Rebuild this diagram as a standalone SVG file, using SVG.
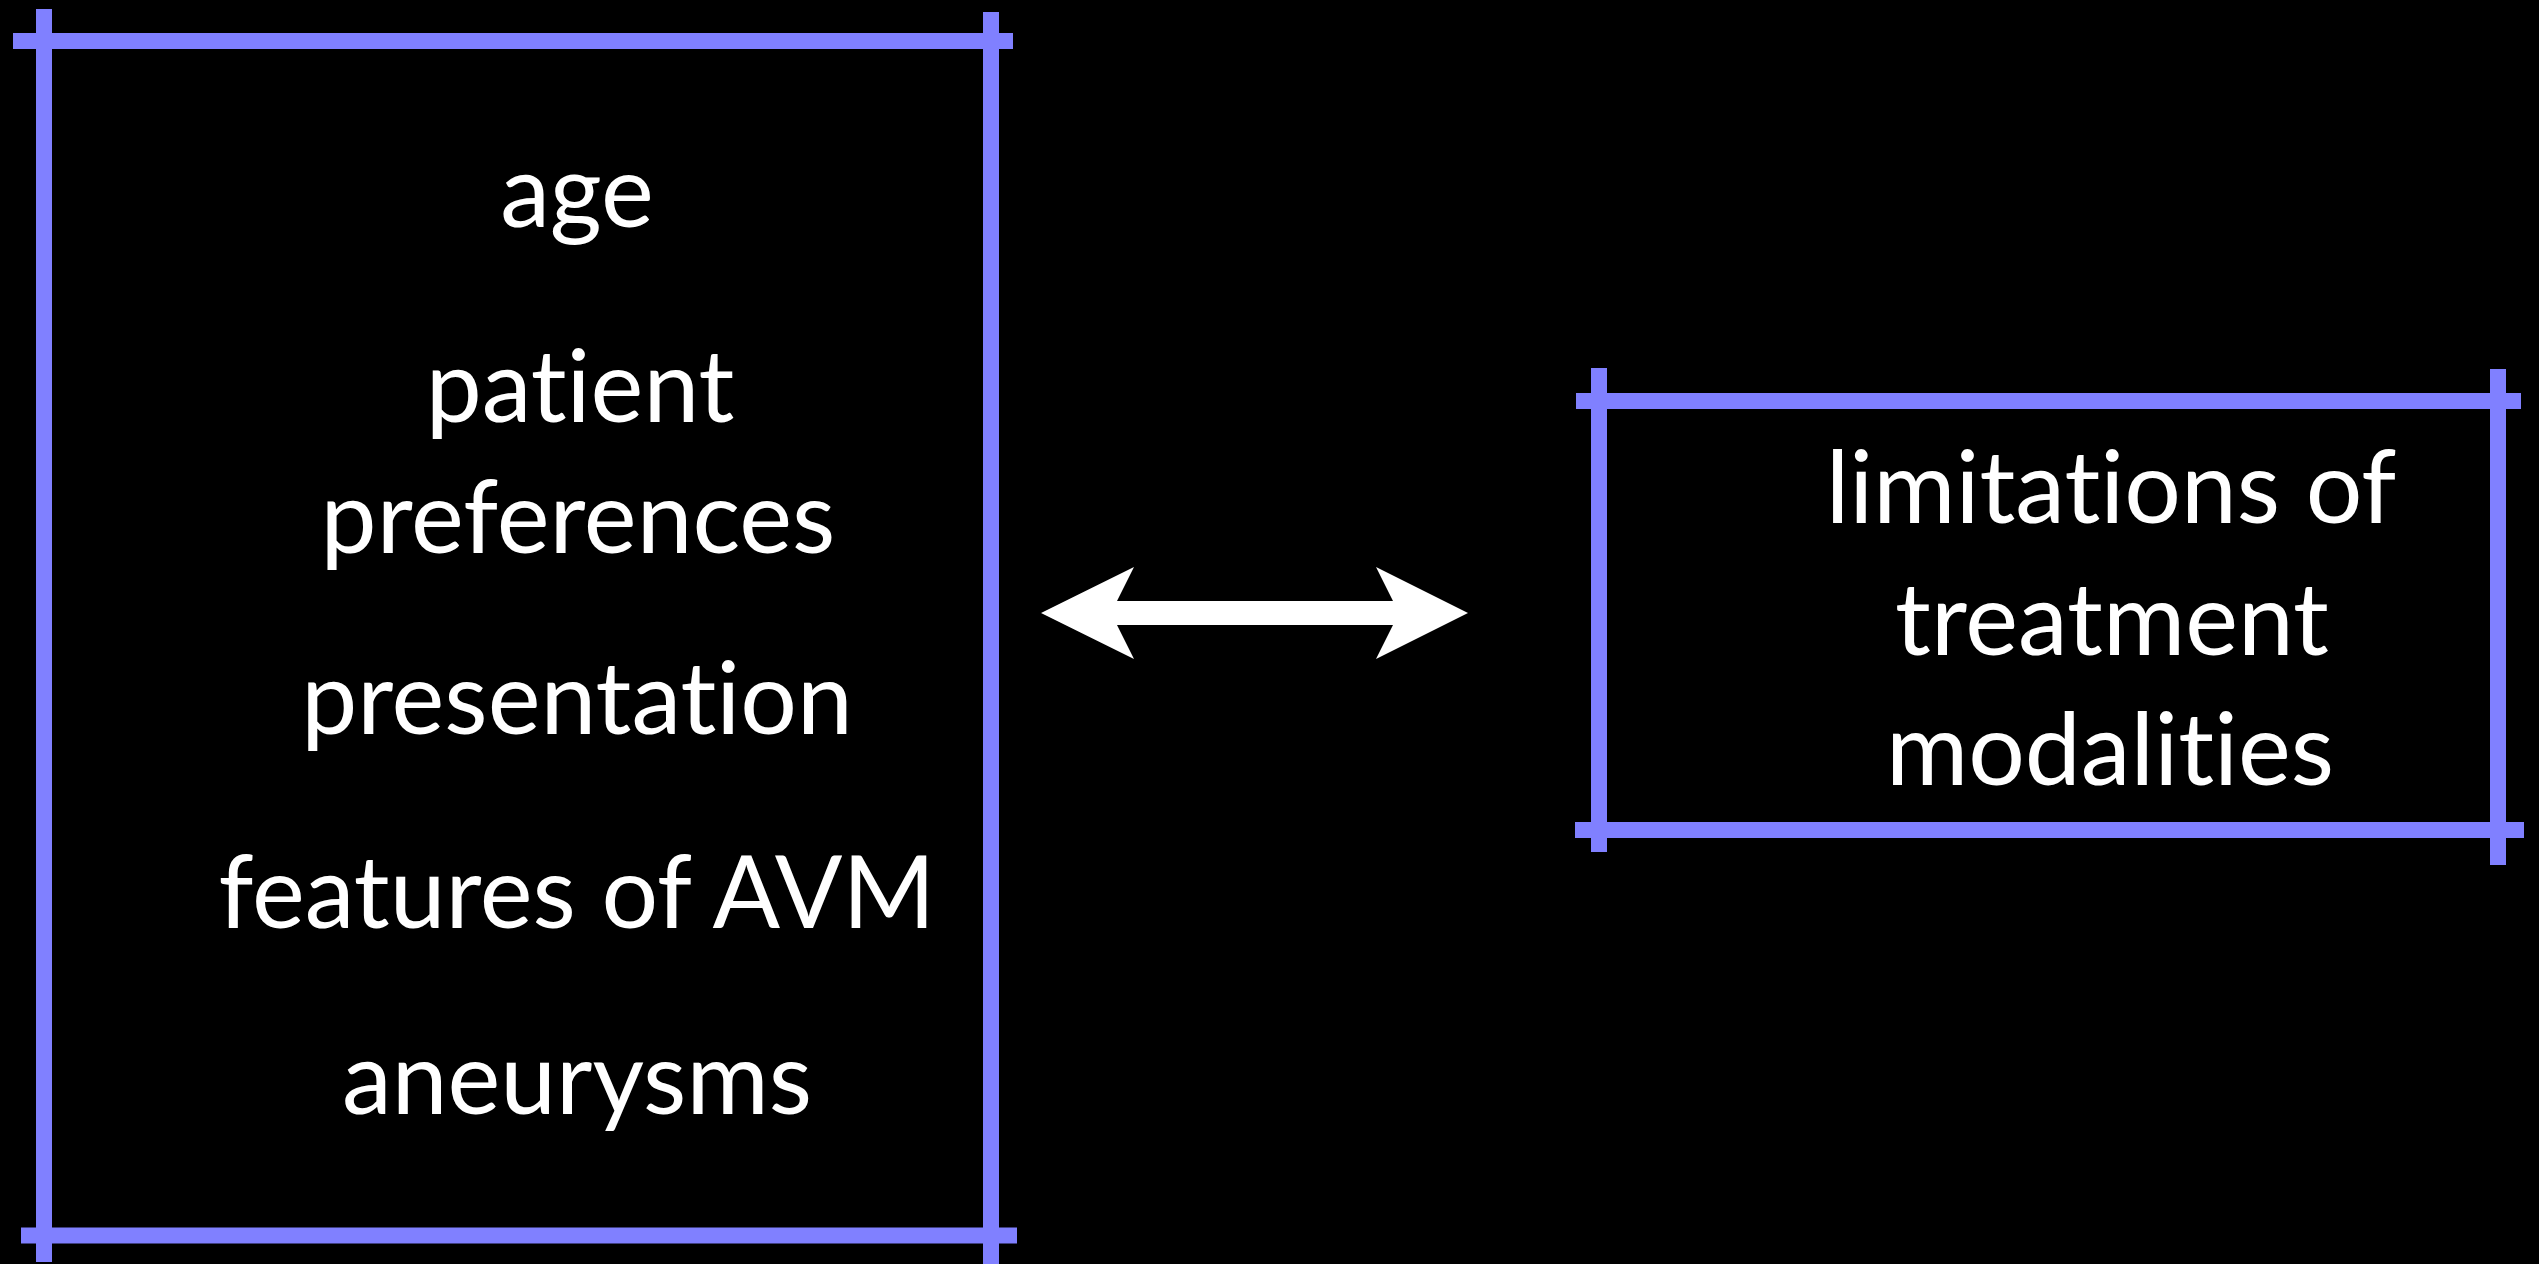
<svg xmlns="http://www.w3.org/2000/svg" width="2539" height="1264" viewBox="0 0 2539 1264">
<style>
.frame{stroke:#8080FF;stroke-width:16;fill:none}
.lbl{font-family:Lato,"Open Sans","Liberation Sans",sans-serif;font-size:100px;fill:#FFFFFF;text-anchor:middle;font-variant-ligatures:none;font-feature-settings:"liga" 0,"clig" 0}
</style>
<rect x="0" y="0" width="2539" height="1264" fill="#000000"/>
<g id="factors">
<line class="frame" x1="13" y1="41" x2="1013" y2="41"/>
<line class="frame" x1="21" y1="1235.5" x2="1017" y2="1235.5"/>
<line class="frame" x1="44" y1="9" x2="44" y2="1262"/>
<line class="frame" x1="991" y1="12" x2="991" y2="1264"/>
<text class="lbl" x="577" y="227">age</text>
<text class="lbl" x="580" y="422">patient</text>
<text class="lbl" x="578" y="553">preferences</text>
<text class="lbl" x="577" y="734">presentation</text>
<text class="lbl" x="577" y="928">features of AVM</text>
<text class="lbl" x="577" y="1114">aneurysms</text>
</g>
<g id="limitations">
<line class="frame" x1="1576" y1="401" x2="2521" y2="401"/>
<line class="frame" x1="1575" y1="830" x2="2524" y2="830"/>
<line class="frame" x1="1599" y1="368" x2="1599" y2="852"/>
<line class="frame" x1="2498" y1="369" x2="2498" y2="865"/>
<text class="lbl" x="2111" y="523">limitations of</text>
<text class="lbl" x="2112" y="655">treatment</text>
<text class="lbl" x="2110" y="785">modalities</text>
</g>
<g id="connectors">
<polygon fill="#FFFFFF" points="1041,613 1134,567 1117,601 1393,601 1376,567 1468,613 1376,659 1393,625 1117,625 1134,659"/>
</g>
</svg>
